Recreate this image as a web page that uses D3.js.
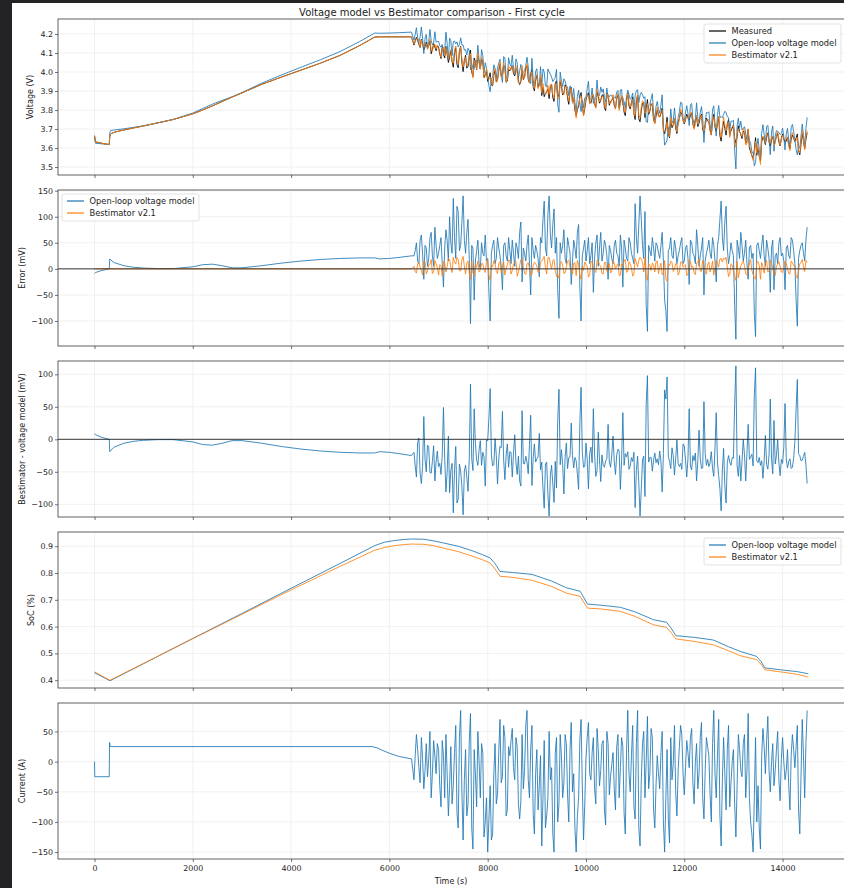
<!DOCTYPE html>
<html>
<head>
<meta charset="utf-8">
<script src="https://cdn.jsdelivr.net/npm/d3@7"></script>
<style>
  html, body { margin: 0; padding: 0; background: #232326; }
  svg { display: block; }
  text { font-family: "DejaVu Sans", sans-serif; }
</style>
</head>
<body>
<script>
// ---- data: smooth charge phase (0 - 6450 s) ----
const smoothTime = [0, 20, 150, 300, 310, 330, 400, 600, 800, 1000, 1300, 1600, 2000, 2200, 2400, 2600,
  2800, 3000, 3400, 3800, 4200, 4600, 5000, 5400, 5700, 5800, 6000, 6200, 6450];
const smoothMeasured = [3.665, 3.632, 3.625, 3.618, 3.66, 3.675, 3.683, 3.695, 3.706, 3.716, 3.733, 3.75, 3.78,
  3.8, 3.822, 3.845, 3.868, 3.89, 3.935, 3.973, 4.01, 4.047, 4.088, 4.14, 4.184, 4.185, 4.185, 4.185, 4.185];
const smoothErrModel = [-9, -7, -3, 0, 19, 17, 12, 6, 3, 1.5, 0.5, 0.5, 4, 8, 9, 6, 2, 2, 6, 11, 15, 18, 20, 21,
  21, 19, 20, 22, 25];
const smoothErrBest = [0, 0, 0, 0, 0, 0, 0, 0, 0, 0, 0, 0, 0, 0, 0, 0, 0, 0, 0, 0, 0, 0, 0, 0, 0, 0, 0, 0, 0];

const currentSmoothTime = [0, 5, 300, 305, 320, 5650, 5750, 5850, 6000, 6200, 6450];
const currentSmooth = [0, -25, -25, 32, 25, 25, 23, 19, 14, 8.5, 4.6];

// ---- data: drive cycle, samples on the 50 s grid (6500 - 14500 s) ----
const noisyStart = 6500, noisyStep = 50;
const noisyCurrent = [
  -30, 45, -10, 40, -45, 30, 5, -60, 35, -20,
  20, -75, 10, 45, -90, 25, -40, 60, -110, 85,
  -130, 20, -70, 80, -145, -20, 50, -60, 15, -100,
  -150, -40, -120, 30, -55, 70, -25, 40, -80, 10,
  55, -30, 25, -95, 45, -15, 85, -60, 60, -120,
  20, -40, -140, 35, -90, 50, -10, -150, 40, -70,
  10, -35, 30, -100, 65, -20, -150, -60, 70, -130,
  5, 65, -30, 40, -70, 20, -15, 35, -105, 30,
  -25, 15, -80, 45, -10, 25, -120, 85, -50, 60,
  -95, 85, -140, 30, -60, 75, -20, 40, -110, 10,
  -45, 50, -150, 20, -135, -30, 60, -90, 25, 45,
  -55, 35, -10, 55, -70, 30, -20, 65, -95, 40,
  10, -100, 85, -60, 70, -140, 40, -80, 60, -35,
  20, -125, 45, -15, 30, -60, 80, -100, -150, 40,
  -40, -145, 55, -20, 75, -50, 30, -15, 50, -65,
  40, -30, 20, -80, 45, -10, 60, -120, 70, -60,
  85];
const noisyMeasured = [
  4.142, 4.183, 4.146, 4.172, 4.117, 4.158, 4.139, 4.096, 4.149, 4.112,
  4.132, 4.071, 4.118, 4.135, 4.050, 4.115, 4.025, 4.128, 4.022, 4.135,
  4.002, 4.088, 4.030, 4.116, 3.977, 4.048, 4.086, 4.016, 4.057, 3.984,
  3.950, 3.996, 3.928, 4.008, 3.962, 4.042, 3.985, 4.024, 3.952, 4.006,
  4.033, 3.979, 4.009, 3.934, 4.015, 3.976, 4.033, 3.943, 4.012, 3.901,
  3.982, 3.941, 3.876, 3.870, 3.896, 3.860, 3.934, 3.845, 3.954, 3.883,
  3.926, 3.889, 3.918, 3.830, 3.919, 3.858, 3.770, 3.819, 3.892, 3.772,
  3.853, 3.891, 3.836, 3.880, 3.816, 3.872, 3.851, 3.881, 3.797, 3.878,
  3.845, 3.866, 3.806, 3.878, 3.842, 3.860, 3.770, 3.890, 3.806, 3.869,
  3.750, 3.877, 3.738, 3.836, 3.760, 3.855, 3.794, 3.826, 3.732, 3.800,
  3.763, 3.810, 3.675, 3.762, 3.654, 3.707, 3.756, 3.676, 3.755, 3.777,
  3.727, 3.778, 3.748, 3.784, 3.706, 3.763, 3.730, 3.778, 3.679, 3.757,
  3.736, 3.668, 3.777, 3.688, 3.764, 3.636, 3.742, 3.668, 3.750, 3.691,
  3.722, 3.625, 3.717, 3.671, 3.688, 3.624, 3.698, 3.580, 3.545, 3.655,
  3.601, 3.533, 3.658, 3.618, 3.680, 3.610, 3.661, 3.637, 3.678, 3.611,
  3.674, 3.630, 3.658, 3.596, 3.669, 3.634, 3.674, 3.564, 3.676, 3.596,
  3.681];
// model voltage minus measured, mV
const noisyErrModel = [
  25, 50, 10, 65, -20, 40, 20, 70, 5, 45,
  30, 60, -35, 75, 15, 50, 135, 20, 110, 45,
  140, 30, 95, -105, 40, 15, 55, 0, 30, 65,
  20, -100, 45, 10, 60, 25, -40, 50, 15, 35,
  55, 5, 40, 70, -25, 30, 45, 10, 60, 20,
  35, -15, 50, 130, 25, 140, 40, 115, 60, -95,
  30, 75, 10, 45, -30, 55, 20, 85, -100, 40,
  15, 60, 25, -45, 50, 5, 70, 30, 45, -20,
  35, 10, 55, 25, 65, -35, 40, 15, 50, 20,
  125, 30, 140, 45, 110, -120, 35, 60, 15, 45,
  20, 70, -60, -120, 40, 25, 55, 10, 35, 60,
  15, 45, -30, 50, 25, 75, 5, 40, -50, 30,
  55, 20, 45, -25, 60, 130, 35, 120, 10, 50,
  25, -135, 40, 70, 15, 55, -20, 45, 30, -130,
  50, 20, 65, 5, 40, -45, 55, 25, 10, 60,
  30, -40, 45, 20, 55, 10, -110, 35, 50, 15,
  80];
// Bestimator voltage minus measured, mV
const noisyErrBest = [
  5, -8, 12, -3, 15, -10, 8, 18, -5, 10,
  -12, 6, 14, -6, 20, 2, 22, 9, 18, -4,
  24, -10, 15, -20, -8, 8, 15, -2, 10, -7,
  18, -22, 4, 11, -9, 14, 3, -12, 8, 16,
  -3, 12, -14, 6, 19, -8, 10, 2, -11, 13,
  5, -6, 15, 24, -10, 22, 0, 18, -15, -18,
  14, -9, 4, 17, -5, 11, -13, 8, -20, -3,
  9, -16, 13, 2, -7, 16, 5, -10, 12, 3,
  -8, 15, 1, 10, -12, 6, 18, -4, 9, -14,
  20, 4, 22, 13, 22, -22, 7, 11, -6, 15,
  2, -11, 16, -24, 6, 12, 0, 9, -7, 14,
  5, -13, 17, 3, -8, 11, 19, -5, 8, -10,
  13, 1, -12, 16, 4, 20, 21, 22, -15, 10,
  -4, -22, -17, 6, 15, -9, 3, 18, -11, -20,
  14, -20, 5, 11, -6, 17, 2, -13, 9, 4,
  -7, 15, 1, -10, 12, 6, -18, 10, 18, -5,
  12];

// ---- data: drive cycle, in-between samples (6525 - 14475 s) ----
const midCurrent = [
  10, 20, -35, 5, -15, -25, 50, -20, 10, 30,
  -40, 35, -60, -20, -40, -70, 15, -85, 40, -50,
  -30, -90, 35, -110, 20, -75, 0, 30, -125, -60,
  -95, -130, -20, -70, 15, -35, 60, -90, 25, 35,
  -10, 40, -70, -65, -45, 60, -30, 20, -85, -20,
  -80, 10, -60, -110, -60, -30, -120, 15, -100, 45,
  -60, 45, -55, 20, -50, -110, -90, 35, -40, -70,
  40, -20, 15, -45, 55, -40, 30, -80, 50, -55,
  -5, -45, 25, -60, 40, -85, 20, -20, 10, -75,
  30, -110, -30, 50, 0, -45, 55, -80, -40, -20,
  15, -100, -60, -95, 40, -5, -50, -15, 60, -20,
  -10, 15, 40, -35, 0, -45, 40, -60, -15, 25,
  -55, 30, -20, 10, -90, -30, -20, 20, -75, 0,
  -70, -40, 20, -25, 45, -15, -60, -120, -60, -100,
  -110, 10, 25, 35, -15, 0, -40, 20, -30, 5,
  0, -15, -40, 10, 20, 25, -80, -25, 10, 30];
const midMeasured = [
  4.164, 4.166, 4.129, 4.149, 4.133, 4.123, 4.164, 4.118, 4.132, 4.140,
  4.094, 4.135, 4.074, 4.094, 4.078, 4.056, 4.103, 4.039, 4.110, 4.052,
  4.060, 4.020, 4.091, 4.000, 4.074, 4.013, 4.054, 4.068, 3.971, 4.006,
  3.973, 3.932, 3.983, 3.950, 4.006, 3.979, 4.036, 3.946, 4.015, 4.021,
  3.992, 4.019, 3.950, 3.950, 3.959, 4.019, 3.962, 3.989, 3.923, 3.959,
  3.919, 3.968, 3.921, 3.886, 3.911, 3.924, 3.865, 3.941, 3.867, 3.949,
  3.879, 3.932, 3.862, 3.897, 3.845, 3.799, 3.803, 3.873, 3.826, 3.809,
  3.877, 3.843, 3.866, 3.832, 3.893, 3.836, 3.878, 3.812, 3.890, 3.825,
  3.852, 3.825, 3.864, 3.810, 3.867, 3.789, 3.849, 3.822, 3.837, 3.783,
  3.842, 3.754, 3.798, 3.842, 3.808, 3.777, 3.833, 3.748, 3.768, 3.773,
  3.781, 3.697, 3.706, 3.673, 3.746, 3.722, 3.705, 3.736, 3.791, 3.746,
  3.749, 3.761, 3.773, 3.725, 3.743, 3.713, 3.761, 3.698, 3.722, 3.744,
  3.694, 3.743, 3.711, 3.727, 3.665, 3.699, 3.703, 3.725, 3.666, 3.705,
  3.653, 3.661, 3.687, 3.650, 3.682, 3.636, 3.601, 3.560, 3.591, 3.562,
  3.556, 3.633, 3.647, 3.658, 3.632, 3.644, 3.623, 3.661, 3.632, 3.652,
  3.647, 3.636, 3.619, 3.647, 3.651, 3.652, 3.587, 3.618, 3.637, 3.647];
const midErrModel = [
  35, 15, 55, 30, 45, 5, 60, 25, 80, 20,
  45, 10, 40, 55, 100, 30, 60, 120, 35, 90,
  55, 70, 20, 45, -60, 35, 10, 50, 25, 15,
  -45, 30, 55, 20, 40, 5, 45, 25, 60, 10,
  30, 50, 20, 90, 40, 15, 65, -50, 35, 45,
  20, 60, 95, 40, 105, 65, 85, 30, -40, 50,
  45, 20, 60, 30, 15, 40, 70, -35, 25, 55,
  35, 10, 50, 20, 65, 40, 15, 55, 25, 45,
  20, 45, 30, 5, 40, 55, 20, 60, 30, 10,
  60, 85, 95, 20, -70, 45, 25, 40, 50, 30,
  45, 15, -80, 35, 60, 20, 40, 25, 50, 10,
  40, 20, 55, 30, 10, 45, 25, 60, 15, 40,
  30, 60, 15, 45, 95, 60, 90, 40, 25, 35,
  -70, 55, 20, 45, 30, 10, 40, 20, -85, 45,
  35, 45, 25, 55, 20, 40, -40, 30, 50, 25,
  15, 40, 25, 60, 35, -60, 20, 45, 30, 55];
const midErrBest = [
  -6, 10, 3, -12, 14, -4, 9, -9, 16, 2,
  8, -14, 11, 4, 18, -7, 13, 22, -3, 17,
  6, 12, -9, 15, -13, 3, -6, 10, -2, 14,
  -12, 7, 16, -5, 10, -8, 13, 1, 17, -10,
  9, 14, -6, 18, 3, -11, 12, -13, 6, 10,
  -7, 13, 19, 2, 21, 10, 16, -4, -12, 11,
  7, -8, 15, 3, -10, 12, 16, -11, 5, 13,
  4, -12, 14, -3, 17, 8, -9, 12, -5, 10,
  -4, 11, 6, -13, 9, 15, -7, 14, 2, -10,
  12, 17, 19, -6, -16, 10, -3, 8, 14, -9,
  11, -7, -18, 9, 15, -5, 10, -12, 13, 3,
  8, -9, 14, 5, -11, 12, -4, 16, -7, 9,
  -6, 15, 2, 10, 19, 13, 18, 4, -10, 7,
  -15, 14, -5, 11, 6, -12, 9, -3, -17, 12,
  7, 12, -8, 16, -4, 10, -11, 5, 14, -6,
  3, 10, -9, 15, 6, -14, -2, 12, 4, 16];

// ---- data: state of charge ----
const socTime = [0, 315, 1000, 2000, 3000, 4000, 5000, 5700, 5900, 6100, 6300, 6450, 6700, 6900, 7100, 7400,
  7700, 7900, 8050, 8150, 8250, 8500, 8900, 9300, 9600, 9880, 9950, 10030, 10300, 10700, 11000, 11370, 11640,
  11730, 11830, 12200, 12590, 12900, 13130, 13470, 13560, 13640, 14000, 14300, 14523];
const socModel = [0.428, 0.398, 0.462, 0.556, 0.649, 0.743, 0.836, 0.902, 0.915, 0.921, 0.925, 0.927, 0.926,
  0.92, 0.912, 0.9, 0.882, 0.868, 0.856, 0.835, 0.806, 0.802, 0.795, 0.77, 0.745, 0.732, 0.71, 0.684, 0.68,
  0.672, 0.655, 0.626, 0.616, 0.595, 0.566, 0.56, 0.55, 0.525, 0.508, 0.489, 0.47, 0.446, 0.438, 0.432, 0.424];
const socBest = [0.431, 0.400, 0.463, 0.555, 0.646, 0.737, 0.825, 0.885, 0.895, 0.902, 0.906, 0.908, 0.907,
  0.902, 0.893, 0.88, 0.862, 0.849, 0.837, 0.815, 0.788, 0.784, 0.773, 0.75, 0.725, 0.713, 0.692, 0.669, 0.666,
  0.657, 0.638, 0.607, 0.597, 0.578, 0.554, 0.545, 0.532, 0.51, 0.492, 0.477, 0.46, 0.439, 0.43, 0.422, 0.412];

const xTicks = [0, 2000, 4000, 6000, 8000, 10000, 12000, 14000];

const BLUE = "#1f77b4", ORANGE = "#ff7f0e", BLACK = "#000";

// ---- assemble series ----
// put the grid samples and the in-between samples back in time order
function interleave(a, b) {
    const out = [];
    a.forEach((v, i) => {
        out.push(v);
        if (i < b.length) out.push(b[i]);
    });
    return out;
}
const gridTime = noisyMeasured.map((_, i) => noisyStart + i * noisyStep);
const midTime = midMeasured.map((_, i) => noisyStart + noisyStep / 2 + i * noisyStep);
const noisyTime = interleave(gridTime, midTime);

const time = smoothTime.concat(noisyTime);
const measured = smoothMeasured.concat(interleave(noisyMeasured, midMeasured));
const errModel = smoothErrModel.concat(interleave(noisyErrModel, midErrModel));
const errBest = smoothErrBest.concat(interleave(noisyErrBest, midErrBest));
const currentTime = currentSmoothTime.concat(noisyTime);
const current = currentSmooth.concat(interleave(noisyCurrent, midCurrent));

const zip = (ts, vs) => ts.map((t, i) => [t, vs[i]]);
const vMeasured = zip(time, measured);
const vModel = time.map((t, i) => [t, measured[i] + errModel[i] / 1000]);
const vBest = time.map((t, i) => [t, measured[i] + errBest[i] / 1000]);
const eModel = zip(time, errModel);
const eBest = zip(time, errBest);
const diff = time.map((t, i) => [t, errBest[i] - errModel[i]]);

// ---- layout ----
const W = 844, H = 888;
const axLeft = 58, axRight = 845;
const panelTop = [19, 190, 361, 532, 703];
const panelH = 156;
const TICK_FS = 7.9, LABEL_FS = 8, LEGEND_FS = 8.3;

const svg = d3.select("body").append("svg").attr("width", W).attr("height", H);
svg.append("rect").attr("x", 12).attr("y", 3).attr("width", W - 12).attr("height", H - 3).attr("fill", "#fff");

const x = d3.scaleLinear().domain([-743, 15270]).range([axLeft, axRight]);

function addPanel(i, domain, ticks, fmt, label, labelX, showX) {
    const top = panelTop[i];
    const y = d3.scaleLinear().domain(domain).range([top + panelH, top]);
    const g = svg.append("g");

    svg.append("clipPath").attr("id", "clip" + i)
        .append("rect").attr("x", axLeft).attr("y", top)
        .attr("width", axRight - axLeft).attr("height", panelH);

    // grid
    g.append("g").selectAll("line").data(ticks).join("line")
        .attr("x1", axLeft).attr("x2", axRight)
        .attr("y1", d => y(d)).attr("y2", d => y(d))
        .attr("stroke", "#ebebeb").attr("stroke-width", 0.7);
    g.append("g").selectAll("line").data(xTicks).join("line")
        .attr("x1", d => x(d)).attr("x2", d => x(d))
        .attr("y1", top).attr("y2", top + panelH)
        .attr("stroke", "#ebebeb").attr("stroke-width", 0.7);

    const plot = g.append("g").attr("clip-path", `url(#clip${i})`);

    // y axis
    const ya = g.append("g").attr("transform", `translate(${axLeft},0)`)
        .call(d3.axisLeft(y).tickValues(ticks).tickFormat(fmt).tickSize(3).tickPadding(2));
    ya.select(".domain").remove();
    ya.selectAll("line").attr("stroke", "#333").attr("stroke-width", 0.7);
    ya.selectAll("text").attr("font-size", TICK_FS).attr("fill", "#222")
        .attr("font-family", "DejaVu Sans, sans-serif");

    // x axis
    const xa = g.append("g").attr("transform", `translate(0,${top + panelH})`)
        .call(d3.axisBottom(x).tickValues(xTicks).tickFormat(showX ? d3.format("d") : "").tickSize(3).tickPadding(3));
    xa.select(".domain").remove();
    xa.selectAll("line").attr("stroke", "#333").attr("stroke-width", 0.7);
    xa.selectAll("text").attr("font-size", TICK_FS).attr("fill", "#222")
        .attr("font-family", "DejaVu Sans, sans-serif");

    // y label
    g.append("text")
        .attr("transform", `translate(${labelX},${top + panelH / 2}) rotate(-90)`)
        .attr("text-anchor", "middle").attr("dy", "0.35em")
        .attr("font-size", LABEL_FS).attr("fill", "#222")
        .text(label);

    return { y, g, plot, top };
}

function drawLine(panel, pts, color, width) {
    const line = d3.line().x(d => x(d[0])).y(d => panel.y(d[1]));
    panel.plot.append("path").datum(pts)
        .attr("d", line).attr("fill", "none")
        .attr("stroke", color).attr("stroke-width", width)
        .attr("stroke-linejoin", "round");
}

function zeroLine(panel) {
    panel.g.append("line")
        .attr("x1", axLeft).attr("x2", axRight)
        .attr("y1", panel.y(0)).attr("y2", panel.y(0))
        .attr("stroke", "#222").attr("stroke-width", 0.9);
}

function frame(panel) {
    panel.g.append("rect")
        .attr("x", axLeft).attr("y", panel.top)
        .attr("width", axRight - axLeft).attr("height", panelH)
        .attr("fill", "none").attr("stroke", "#3a3a3a").attr("stroke-width", 0.8);
}

function legend(panel, bx, by, bw, items) {
    const rowH = 12;
    const bh = items.length * rowH + 3;
    const lg = panel.g.append("g");
    lg.append("rect").attr("x", bx).attr("y", by).attr("width", bw).attr("height", bh)
        .attr("rx", 2).attr("fill", "#fff").attr("fill-opacity", 0.85)
        .attr("stroke", "#d6d6d6").attr("stroke-width", 0.7);
    items.forEach((it, k) => {
        const cy = by + 7 + k * rowH;
        lg.append("line").attr("x1", bx + 5).attr("x2", bx + 22)
            .attr("y1", cy).attr("y2", cy)
            .attr("stroke", it.color).attr("stroke-width", 1.2);
        lg.append("text").attr("x", bx + 27.5).attr("y", cy).attr("dy", "0.35em")
            .attr("font-size", LEGEND_FS).attr("fill", "#222").text(it.label);
    });
}

const fmt1 = d3.format(".1f");
const fmtInt = d3.format("d");
const LW = 0.85;

// Panel 1: voltage
const p1 = addPanel(0, [3.458, 4.279], [3.5, 3.6, 3.7, 3.8, 3.9, 4.0, 4.1, 4.2], fmt1, "Voltage (V)", 30, false);
drawLine(p1, vMeasured, BLACK, LW);
drawLine(p1, vModel, BLUE, LW);
drawLine(p1, vBest, ORANGE, LW);
frame(p1);
legend(p1, 704, 24, 137, [
    { label: "Measured", color: BLACK },
    { label: "Open-loop voltage model", color: BLUE },
    { label: "Bestimator v2.1", color: ORANGE }
]);

// Panel 2: error
const p2 = addPanel(1, [-148, 151.3], [-100, -50, 0, 50, 100, 150], fmtInt, "Error (mV)", 22, false);
drawLine(p2, eModel, BLUE, LW);
drawLine(p2, eBest, ORANGE, LW);
zeroLine(p2);
frame(p2);
legend(p2, 62, 194, 137, [
    { label: "Open-loop voltage model", color: BLUE },
    { label: "Bestimator v2.1", color: ORANGE }
]);

// Panel 3: Bestimator - model
const p3 = addPanel(2, [-119.5, 120.5], [-100, -50, 0, 50, 100], fmtInt, "Bestimator - voltage model (mV)", 22, false);
drawLine(p3, diff, BLUE, LW);
zeroLine(p3);
frame(p3);

// Panel 4: SoC
const p4 = addPanel(3, [0.371, 0.953], [0.4, 0.5, 0.6, 0.7, 0.8, 0.9], fmt1, "SoC (%)", 31, false);
drawLine(p4, zip(socTime, socModel), BLUE, LW);
drawLine(p4, zip(socTime, socBest), ORANGE, LW);
frame(p4);
legend(p4, 704, 538, 137, [
    { label: "Open-loop voltage model", color: BLUE },
    { label: "Bestimator v2.1", color: ORANGE }
]);

// Panel 5: current
const p5 = addPanel(4, [-161.5, 97.3], [-150, -100, -50, 0, 50], fmtInt, "Current (A)", 22, true);
drawLine(p5, zip(currentTime, current), BLUE, LW);
frame(p5);

// titles
svg.append("text").attr("x", 432).attr("y", 16).attr("text-anchor", "middle")
    .attr("font-size", 10).attr("fill", "#222")
    .text("Voltage model vs Bestimator comparison - First cycle");
svg.append("text").attr("x", 451).attr("y", 884).attr("text-anchor", "middle")
    .attr("font-size", LABEL_FS).attr("fill", "#222")
    .text("Time (s)");
</script>
</body>
</html>
